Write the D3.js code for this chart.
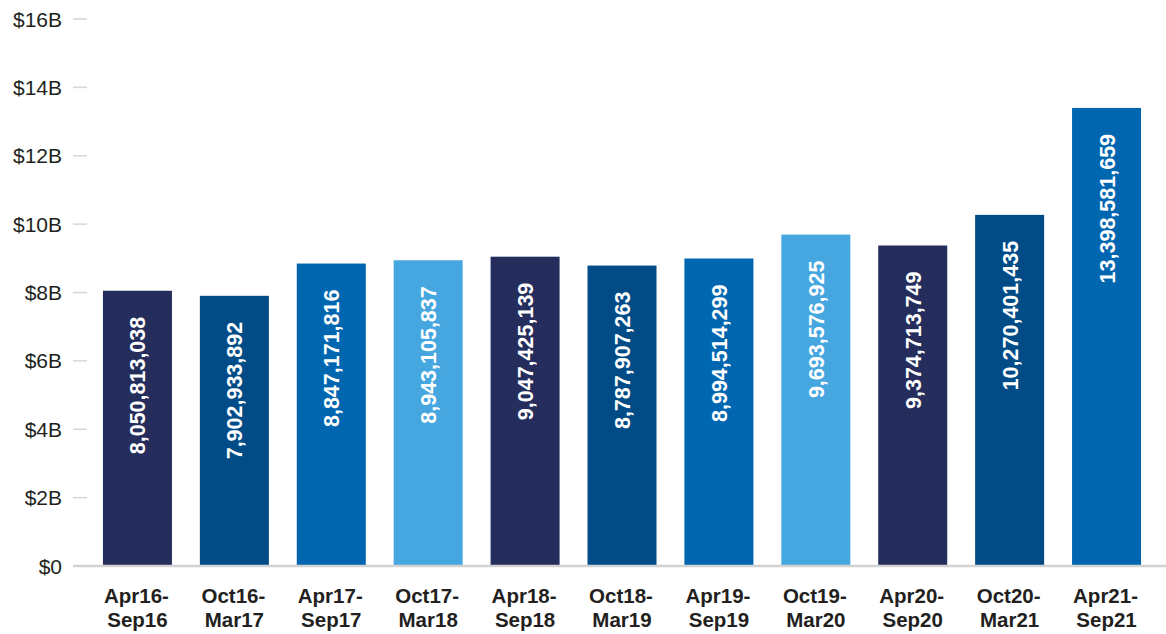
<!DOCTYPE html>
<html>
<head>
<meta charset="utf-8">
<script src="https://cdn.jsdelivr.net/npm/d3@7"></script>
<style>
  html, body { margin: 0; padding: 0; background: #fff; }
  svg { display: block; font-family: "Liberation Sans", Arial, Helvetica, sans-serif; }
</style>
</head>
<body>
<svg id="chart" width="1166" height="634"></svg>
<script>
const periodStart = ["Apr16-", "Oct16-", "Apr17-", "Oct17-", "Apr18-", "Oct18-", "Apr19-", "Oct19-", "Apr20-", "Oct20-", "Apr21-"];
const periodEnd = ["Sep16", "Mar17", "Sep17", "Mar18", "Sep18", "Mar19", "Sep19", "Mar20", "Sep20", "Mar21", "Sep21"];
const values = [8050813038, 7902933892, 8847171816, 8943105837, 9047425139, 8787907263, 8994514299, 9693576925, 9374713749, 10270401435, 13398581659];
const yTicks = [0, 2e9, 4e9, 6e9, 8e9, 10e9, 12e9, 14e9, 16e9];
const yTickLabels = ["$0", "$2B", "$4B", "$6B", "$8B", "$10B", "$12B", "$14B", "$16B"];
const palette = ["#252d5c", "#014c87", "#0066b0", "#46a7e0"];

const svg = d3.select("#chart");
const idx = d3.range(values.length);

const x = d3.scaleBand().domain(idx).range([89, 1155]).paddingInner(0.288).paddingOuter(0.144);
const y = d3.scaleLinear().domain([0, 16e9]).range([566, 19]);

// y axis ticks
const yAxis = svg.append("g");
yTicks.forEach((t, i) => {
  if (t !== 0) {
    yAxis.append("line")
      .attr("x1", 73).attr("x2", 87)
      .attr("y1", y(t)).attr("y2", y(t))
      .attr("stroke", "#d6d6d6").attr("stroke-width", 1.5);
  }
  yAxis.append("text")
    .attr("x", 62).attr("y", y(t)).attr("dy", "0.36em")
    .attr("text-anchor", "end")
    .attr("font-size", 21)
    .attr("fill", "#231f20")
    .text(yTickLabels[i]);
});

// bars
svg.append("g").selectAll("rect").data(idx).join("rect")
  .attr("x", d => x(d))
  .attr("width", x.bandwidth())
  .attr("y", d => y(values[d]))
  .attr("height", d => y(0) - y(values[d]))
  .attr("fill", d => palette[d % 4]);

// baseline
svg.append("line")
  .attr("x1", 73).attr("x2", 1166)
  .attr("y1", y(0)).attr("y2", y(0))
  .attr("stroke", "#d2d2d2").attr("stroke-width", 2.5);

// value labels
const fmt = d3.format(",");
svg.append("g").selectAll("text").data(idx).join("text")
  .attr("transform", d => `translate(${x(d) + x.bandwidth() / 2 + 8},${y(values[d]) + 26}) rotate(-90)`)
  .attr("text-anchor", "end")
  .attr("font-size", 21.5)
  .attr("font-weight", "bold")
  .attr("fill", "#fff")
  .text(d => fmt(values[d]));

// x labels
const xl = svg.append("g").selectAll("text").data(idx).join("text")
  .attr("text-anchor", "middle")
  .attr("font-size", 20.5)
  .attr("font-weight", "bold")
  .attr("fill", "#231f20");
xl.append("tspan").attr("x", d => x(d) + x.bandwidth() / 2 - 1).attr("y", 603).text(d => periodStart[d]);
xl.append("tspan").attr("x", d => x(d) + x.bandwidth() / 2).attr("y", 627).text(d => periodEnd[d]);
</script>
</body>
</html>
